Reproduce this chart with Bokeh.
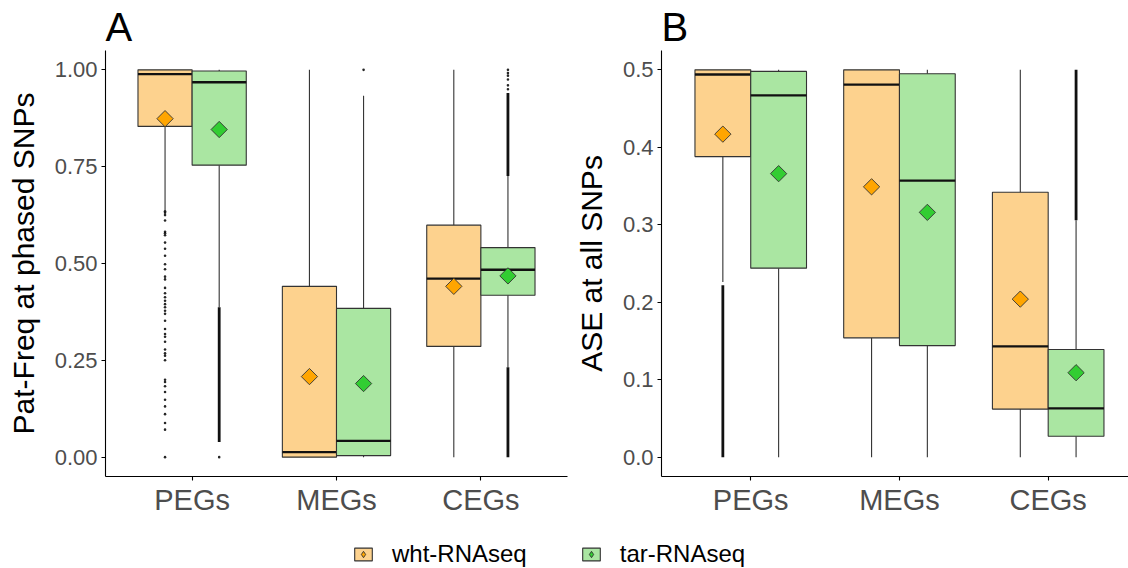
import math
from bokeh.plotting import figure
from bokeh.models import (ColumnDataSource, Range1d, FixedTicker, Legend, LegendItem,
                          NumeralTickFormatter)
from bokeh.layouts import column, row
from bokeh.embed import file_html
from bokeh.resources import INLINE

# ---------------- data ----------------
categories = ["PEGs", "MEGs", "CEGs"]
groups = ["wht-RNAseq", "tar-RNAseq"]

# Panel A: Pat-Freq at phased SNPs
A_wht_lower = [0.635, 0.000, 0.000]
A_wht_q1 = [0.854, 0.000, 0.286]
A_wht_med = [0.989, 0.013, 0.461]
A_wht_q3 = [1.000, 0.441, 0.599]
A_wht_upper = [1.000, 1.000, 1.000]
A_wht_mean = [0.874, 0.208, 0.441]

A_tar_lower = [0.387, 0.000, 0.232]
A_tar_q1 = [0.754, 0.004, 0.418]
A_tar_med = [0.968, 0.042, 0.484]
A_tar_q3 = [0.997, 0.384, 0.541]
A_tar_upper = [1.000, 0.933, 0.726]
A_tar_mean = [0.846, 0.190, 0.468]

# sparse outliers (category, group, value)
A_out_cat = ["PEGs"] * 41 + ["PEGs", "MEGs"] + ["CEGs"] * 6
A_out_grp = ["wht-RNAseq"] * 41 + ["tar-RNAseq", "tar-RNAseq"] + ["tar-RNAseq"] * 6
A_out_val = [0.635, 0.631, 0.625, 0.611, 0.582, 0.578, 0.573, 0.554, 0.538, 0.520,
             0.498, 0.485, 0.466, 0.459, 0.437, 0.423, 0.413, 0.404, 0.395, 0.387,
             0.378, 0.370, 0.352, 0.331, 0.318, 0.311, 0.298, 0.278, 0.268, 0.262,
             0.250, 0.200, 0.194, 0.183, 0.168, 0.148, 0.131, 0.111, 0.088, 0.071,
             0.000,
             0.000, 1.000,
             0.950, 0.960, 0.975, 0.985, 0.992, 1.000]
# dense runs of outliers (drawn as solid runs)
A_band_cat = ["PEGs", "CEGs", "CEGs"]
A_band_grp = ["tar-RNAseq", "tar-RNAseq", "tar-RNAseq"]
A_band_lo = [0.039, 0.000, 0.726]
A_band_hi = [0.387, 0.232, 0.940]

# Panel B: ASE at all SNPs
B_wht_lower = [0.226, 0.000, 0.000]
B_wht_q1 = [0.388, 0.154, 0.062]
B_wht_med = [0.494, 0.481, 0.143]
B_wht_q3 = [0.500, 0.500, 0.342]
B_wht_upper = [0.500, 0.500, 0.500]
B_wht_mean = [0.417, 0.349, 0.204]

B_tar_lower = [0.000, 0.000, 0.000]
B_tar_q1 = [0.244, 0.144, 0.027]
B_tar_med = [0.467, 0.357, 0.063]
B_tar_q3 = [0.498, 0.495, 0.139]
B_tar_upper = [0.500, 0.500, 0.306]
B_tar_mean = [0.366, 0.316, 0.109]

B_out_cat = []
B_out_grp = []
B_out_val = []
B_band_cat = ["PEGs", "CEGs"]
B_band_grp = ["wht-RNAseq", "tar-RNAseq"]
B_band_lo = [0.000, 0.306]
B_band_hi = [0.222, 0.500]

A_yticks = [0.0, 0.25, 0.5, 0.75, 1.0]
B_yticks = [0.0, 0.1, 0.2, 0.3, 0.4, 0.5]

# ---------------- style ----------------
FONT = "Liberation Sans"
BOX_FILL = {"wht-RNAseq": "#FDD28E", "tar-RNAseq": "#AAE6A2"}
MEAN_FILL = {"wht-RNAseq": "#FFA500", "tar-RNAseq": "#32CD32"}
EDGE = "#333333"
BW = 0.375
OFFS = {"wht-RNAseq": -BW / 2, "tar-RNAseq": BW / 2}


def xpos(cat, grp):
    return categories.index(cat) + 1 + OFFS[grp]


def style_axes(p, ylabel, yticks, fmt):
    p.xgrid.visible = False
    p.ygrid.visible = False
    p.outline_line_color = None
    p.background_fill_color = "white"
    p.border_fill_color = "white"
    p.xaxis.ticker = FixedTicker(ticks=[1, 2, 3])
    p.xaxis.major_label_overrides = {i + 1: c for i, c in enumerate(categories)}
    p.yaxis.ticker = FixedTicker(ticks=yticks)
    p.yaxis.formatter = NumeralTickFormatter(format=fmt)
    for ax in p.axis:
        ax.axis_line_color = "black"
        ax.axis_line_width = 1.1
        ax.major_tick_line_color = "black"
        ax.major_tick_line_width = 1.1
        ax.major_tick_out = 4
        ax.major_tick_in = 0
        ax.minor_tick_line_color = None
        ax.major_label_text_color = "#4D4D4D"
        ax.major_label_text_font = FONT
    p.xaxis.major_label_text_font_size = "29px"
    p.xaxis.major_label_standoff = 3
    p.yaxis.major_label_text_font_size = "22px"
    p.yaxis.major_label_standoff = 4
    p.yaxis.axis_label = ylabel
    p.yaxis.axis_label_text_font = FONT
    p.yaxis.axis_label_text_font_size = "30px"
    p.yaxis.axis_label_text_font_style = "normal"
    p.yaxis.axis_label_text_color = "black"
    p.yaxis.axis_label_standoff = 12
    p.title.text_font = FONT
    p.title.text_font_size = "40px"
    p.title.text_font_style = "normal"
    p.title.text_color = "black"
    p.title.align = "left"
    p.title.offset = 0
    p.title.standoff = 4


def draw_panel(p, stats, out, bands):
    # outliers first (as in ggplot)
    bx, blo, bhi = [], [], []
    for c, g, lo, hi in zip(*bands):
        bx.append(xpos(c, g)); blo.append(lo); bhi.append(hi)
    p.segment(x0="x", x1="x", y0="lo", y1="hi",
              source=ColumnDataSource(dict(x=bx, lo=blo, hi=bhi)),
              line_color="#111111", line_width=2.8)
    ox = [xpos(c, g) for c, g in zip(out[0], out[1])]
    p.scatter(x="x", y="y", source=ColumnDataSource(dict(x=ox, y=list(out[2]))),
              marker="circle", size=2.6, fill_color="black", line_color=None, fill_alpha=0.85)
    for grp, (lower, q1, med, q3, upper, mean) in stats.items():
        x = [i + 1 + OFFS[grp] for i in range(len(categories))]
        src = ColumnDataSource(dict(
            x=x, xl=[v - BW / 2 for v in x], xr=[v + BW / 2 for v in x],
            lower=lower, q1=q1, med=med, q3=q3, upper=upper, mean=mean))
        p.segment(x0="x", x1="x", y0="q3", y1="upper", source=src,
                  line_color=EDGE, line_width=1.1)
        p.segment(x0="x", x1="x", y0="q1", y1="lower", source=src,
                  line_color=EDGE, line_width=1.1)
        p.vbar(x="x", width=BW, top="q3", bottom="q1", source=src,
               fill_color=BOX_FILL[grp], line_color=EDGE, line_width=1.1)
        p.segment(x0="xl", x1="xr", y0="med", y1="med", source=src,
                  line_color="#111111", line_width=2.4)
        p.scatter(x="x", y="mean", source=src, marker="square", angle=math.pi / 4,
                  size=11.5, fill_color=MEAN_FILL[grp], line_color="#333333", line_width=0.9)


pA = figure(width=570, height=523, x_range=Range1d(0.4, 3.6), y_range=Range1d(-0.05, 1.05),
            output_backend="svg", toolbar_location=None, title="A",
            min_border_left=105, min_border_right=3, min_border_top=50, min_border_bottom=47)
style_axes(pA, "Pat-Freq at phased SNPs", A_yticks, "0.00")
draw_panel(pA,
           {"wht-RNAseq": (A_wht_lower, A_wht_q1, A_wht_med, A_wht_q3, A_wht_upper, A_wht_mean),
            "tar-RNAseq": (A_tar_lower, A_tar_q1, A_tar_med, A_tar_q3, A_tar_upper, A_tar_mean)},
           (A_out_cat, A_out_grp, A_out_val),
           (A_band_cat, A_band_grp, A_band_lo, A_band_hi))

pB = figure(width=558, height=523, x_range=Range1d(0.4, 3.54), y_range=Range1d(-0.025, 0.525),
            output_backend="svg", toolbar_location=None, title="B",
            min_border_left=91, min_border_right=0, min_border_top=50, min_border_bottom=47)
style_axes(pB, "ASE at all SNPs", B_yticks, "0.0")
draw_panel(pB,
           {"wht-RNAseq": (B_wht_lower, B_wht_q1, B_wht_med, B_wht_q3, B_wht_upper, B_wht_mean),
            "tar-RNAseq": (B_tar_lower, B_tar_q1, B_tar_med, B_tar_q3, B_tar_upper, B_tar_mean)},
           (B_out_cat, B_out_grp, B_out_val),
           (B_band_cat, B_band_grp, B_band_lo, B_band_hi))

# legend strip (key glyphs are placed outside the strip's visible range)
pL = figure(width=1128, height=45, x_range=Range1d(0, 1), y_range=Range1d(0, 1),
            output_backend="svg", toolbar_location=None,
            min_border_left=0, min_border_right=0, min_border_top=0, min_border_bottom=0)
pL.axis.visible = False
pL.xgrid.visible = False
pL.ygrid.visible = False
pL.outline_line_color = None
items = []
for grp in groups:
    rb = pL.quad(left=[-10], right=[-9], top=[-9], bottom=[-10], fill_color=BOX_FILL[grp],
                 line_color=EDGE, line_width=1.1)
    rm = pL.scatter(x=[-10], y=[-10], marker="diamond", fill_color=MEAN_FILL[grp],
                    line_color="#333333", line_width=0.9)
    items.append(LegendItem(label=grp, renderers=[rb, rm]))
leg = Legend(items=items, orientation="horizontal", location=(352, 0),
             glyph_width=22, glyph_height=16, label_standoff=18, spacing=53,
             padding=0, margin=0, border_line_color=None, background_fill_alpha=0,
             label_text_font=FONT, label_text_font_size="24px", label_text_color="black")
pL.add_layout(leg, "center")

layout = column(row(pA, pB), pL)
open("out.html", "w").write(file_html(layout, INLINE))
